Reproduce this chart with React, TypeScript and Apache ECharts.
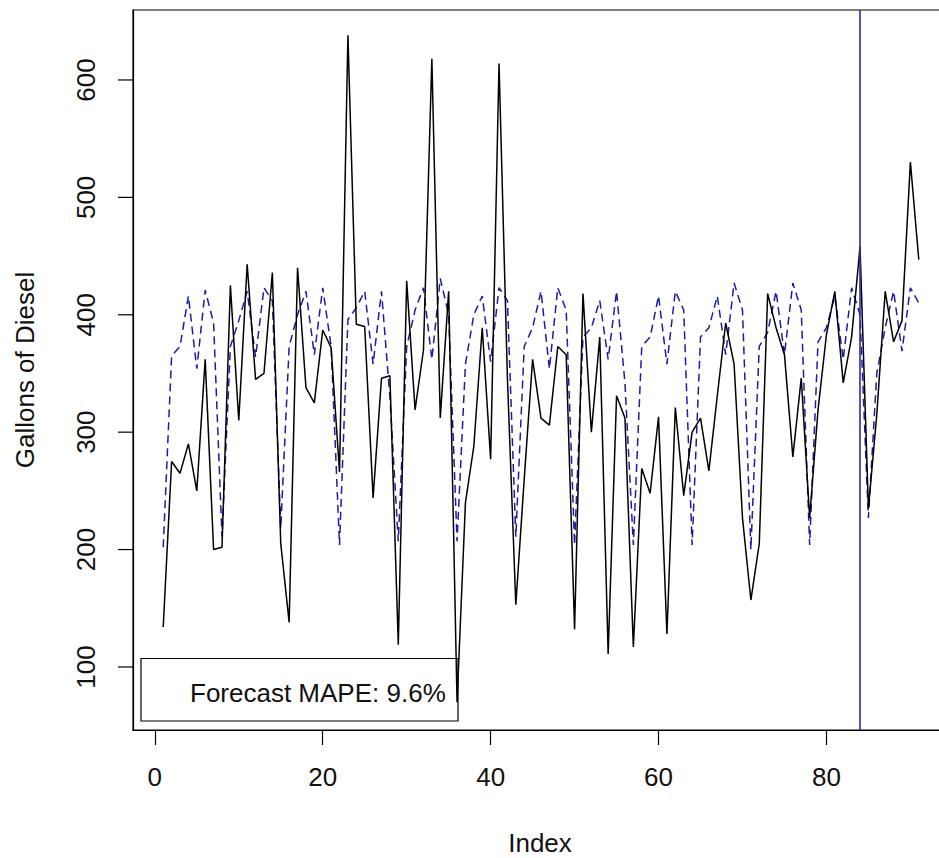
import React, { useEffect, useRef } from "react";
import * as echarts from "echarts";

const actual: number[] = [
  134, 275, 265, 290, 250, 362, 200, 202, 425, 310,
  443, 345, 350, 436, 205, 138, 440, 338, 325, 387,
  372, 266, 638, 392, 390, 244, 346, 348, 119, 429,
  319, 370, 618, 312, 420, 70, 240, 288, 389, 277,
  614, 346, 153, 260, 362, 312, 306, 373, 366, 132,
  418, 300, 381, 111, 331, 312, 117, 269, 248, 313,
  128, 321, 246, 300, 312, 267, 331, 393, 358, 227,
  157, 205, 418, 389, 366, 279, 346, 227, 319, 383,
  420, 342, 381, 458, 235, 315, 420, 377, 395, 530,
  447,
];

const forecast: number[] = [
  202, 365, 373, 416, 354, 421, 393, 211, 373, 395,
  420, 364, 423, 412, 218, 373, 400, 420, 366, 423,
  373, 204, 396, 406, 420, 358, 420, 330, 207, 373,
  404, 423, 362, 431, 400, 207, 358, 400, 416, 360,
  423, 412, 211, 373, 389, 420, 354, 423, 404, 204,
  381, 389, 412, 362, 420, 342, 204, 373, 381, 416,
  358, 420, 404, 204, 381, 389, 416, 366, 427, 404,
  200, 373, 385, 420, 366, 427, 404, 204, 377, 389,
  416, 362, 423, 400, 227, 350, 389, 420, 369, 423,
  410,
];

const xTicks: number[] = [0, 20, 40, 60, 80];
const yTicks: number[] = [100, 200, 300, 400, 500, 600];
const xMin = -2.6;
const xMax = 94.6;
const yMin = 46.3;
const yMax = 659.6;
const forecastStart = 84;
const mapeText = "Forecast MAPE: 9.6%";
const xTitle = "Index";
const yTitle = "Gallons of Diesel";

const FONT = "Liberation Sans, Arial, sans-serif";

export default function App() {
  const ref = useRef<HTMLDivElement>(null);
  useEffect(() => {
    if (!ref.current) return;
    const chart = echarts.init(ref.current, null, { renderer: "svg" });
    const actualData = actual.map((v, i) => [i + 1, v]);
    const forecastData = forecast.map((v, i) => [i + 1, v]);
    const baseGraphics: any[] = [
      {
        id: "legendBox",
        type: "rect",
        shape: { x: 141, y: 658.5, width: 317, height: 62.5 },
        style: { fill: "transparent", stroke: "#000", lineWidth: 1.2 },
        z: 10,
      },
      {
        id: "legendText",
        type: "text",
        x: 190,
        y: 693,
        style: {
          text: mapeText,
          fontSize: 26,
          fontFamily: FONT,
          fill: "#111",
          textAlign: "left",
          textVerticalAlign: "middle",
        },
        z: 10,
      },
      {
        id: "xTitle",
        type: "text",
        x: 540,
        y: 843,
        style: {
          text: xTitle,
          fontSize: 26,
          fontFamily: FONT,
          fill: "#111",
          textAlign: "center",
          textVerticalAlign: "middle",
        },
      },
      {
        id: "yTitle",
        type: "text",
        x: 25,
        y: 370,
        rotation: Math.PI / 2,
        style: {
          text: yTitle,
          fontSize: 26,
          fontFamily: FONT,
          fill: "#111",
          textAlign: "center",
          textVerticalAlign: "middle",
        },
      },
    ];
    chart.setOption({
      animation: false,
      backgroundColor: "#ffffff",
      grid: {
        left: 133,
        top: 10,
        right: 10,
        bottom: 128,
        show: true,
        borderColor: "#000",
        borderWidth: 1.2,
        backgroundColor: "transparent",
      },
      xAxis: {
        type: "value",
        min: xMin,
        max: xMax,
        axisLine: { show: true, onZero: false, lineStyle: { color: "#000", width: 1.2 } },
        splitLine: { show: false },
        axisTick: {
          show: true,
          inside: false,
          length: 15,
          customValues: xTicks,
          lineStyle: { color: "#000", width: 1.2 },
        },
        axisLabel: {
          customValues: xTicks,
          margin: 34,
          fontSize: 26,
          fontFamily: FONT,
          color: "#111",
        },
      },
      yAxis: {
        type: "value",
        position: "left",
        min: yMin,
        max: yMax,
        axisLine: { show: true, onZero: false, lineStyle: { color: "#000", width: 1.2 } },
        splitLine: { show: false },
        axisTick: { show: false },
        axisLabel: {
          customValues: yTicks,
          rotate: 90,
          margin: 34,
          fontSize: 26,
          fontFamily: FONT,
          color: "#111",
        },
      },
      series: [
        {
          type: "line",
          data: actualData,
          symbol: "none",
          lineStyle: { color: "#000", width: 1.5 },
          z: 3,
        },
        {
          type: "line",
          data: forecastData,
          symbol: "none",
          lineStyle: { color: "#1c1ca8", width: 1.5, type: [8, 5] },
          z: 2,
          markLine: {
            symbol: "none",
            silent: true,
            label: { show: false },
            lineStyle: { color: "#2a2aa8", width: 1.6, type: "solid" },
            data: [{ xAxis: forecastStart }],
          },
        },
      ],
      graphic: baseGraphics,
    });

    // y-axis tick marks placed through the chart's own scale
    const tickGraphics = yTicks.map((v) => {
      const p = chart.convertToPixel({ gridIndex: 0 }, [xMin, v]) as number[];
      return {
        id: "ytick" + v,
        type: "line",
        shape: { x1: p[0] - 15, y1: p[1], x2: p[0], y2: p[1] },
        style: { stroke: "#000", lineWidth: 1.2 },
        z: 20,
      };
    });
    chart.setOption({ graphic: [...baseGraphics, ...tickGraphics] });

    return () => chart.dispose();
  }, []);
  return (
    <div
      style={{
        position: "fixed",
        left: 0,
        top: 0,
        width: 939,
        height: 858,
        overflow: "hidden",
        background: "#fff",
      }}
    >
      <div ref={ref} style={{ width: 958.6, height: 858 }} />
    </div>
  );
}
